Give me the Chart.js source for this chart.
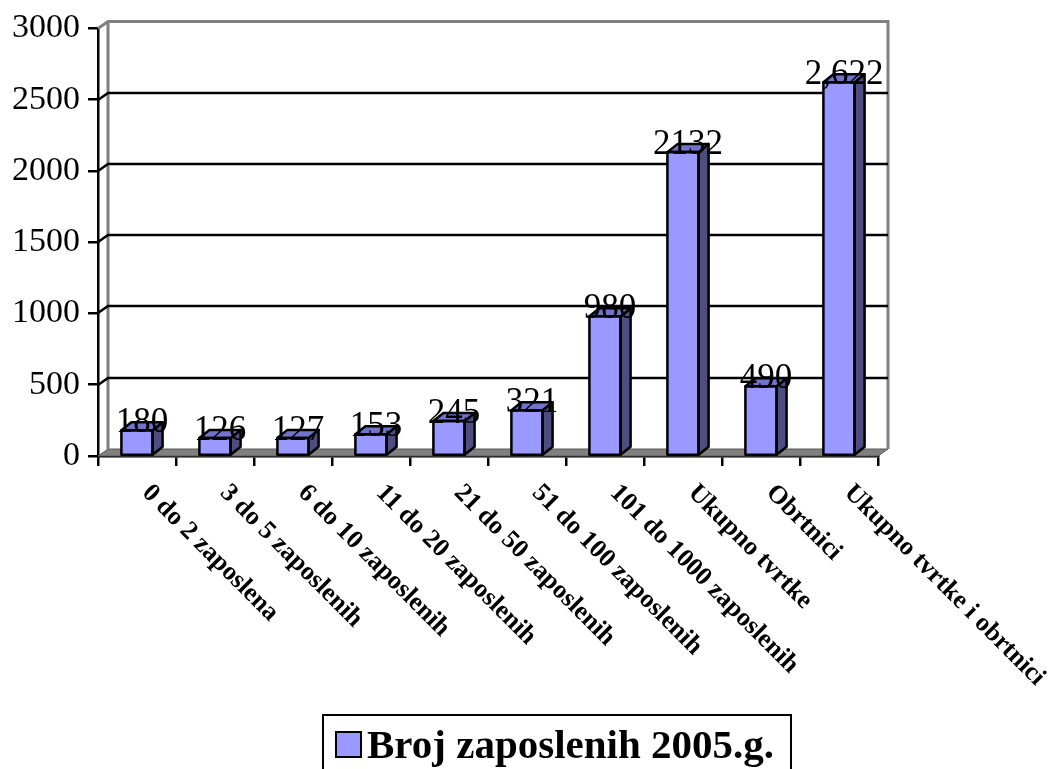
<!DOCTYPE html>
<html><head><meta charset="utf-8">
<script src="https://cdn.jsdelivr.net/npm/chart.js@4.4.1/dist/chart.umd.min.js"></script>
<style>html,body{margin:0;padding:0;background:#fff;overflow:hidden}</style>
</head><body>
<canvas id="c" width="1048" height="769"></canvas>
<script>
const categories = ['0 do 2 zaposlena','3 do 5 zaposlenih','6 do 10 zaposlenih','11 do 20 zaposlenih','21 do 50 zaposlenih','51 do 100 zaposlenih','101 do 1000 zaposlenih','Ukupno tvrtke','Obrtnici','Ukupno tvrtke i obrtnici'];
const values = [180,126,127,153,245,321,980,2132,490,2622];
const valueLabels = ['180','126','127','153','245','321','980','2132','490','2,622'];
const seriesName = 'Broj zaposlenih 2005.g.';
const yTicks = [0,500,1000,1500,2000,2500,3000];

const FRONT = '#9999FF', SIDE = '#4D4D80', TOP = '#7373CC';
const SERIF = "'Liberation Serif','Times New Roman',serif";

const threeD = {
  id: 'threeD',
  beforeDatasetsDraw(chart) {
    const {ctx, chartArea: a, scales: {y}} = chart;
    const L = a.left, R = a.right, T = a.top, B = a.bottom, dx = 10, dy = -7;
    ctx.save();
    // floor
    ctx.fillStyle = '#808080';
    ctx.beginPath();
    ctx.moveTo(L, B); ctx.lineTo(R, B); ctx.lineTo(R + dx, B + dy); ctx.lineTo(L + dx, B + dy); ctx.closePath();
    ctx.fill();
    ctx.strokeStyle = '#5a5a5a'; ctx.lineWidth = 1; ctx.stroke();
    // wall outline
    ctx.strokeStyle = '#808080'; ctx.lineWidth = 3;
    ctx.beginPath();
    ctx.moveTo(L, T); ctx.lineTo(L + dx, T + dy); ctx.lineTo(R + dx, T + dy); ctx.lineTo(R + dx, B + dy);
    ctx.moveTo(L + dx, T + dy); ctx.lineTo(L + dx, B + dy);
    ctx.stroke();
    // gridlines on back wall
    ctx.strokeStyle = '#000'; ctx.lineWidth = 2.5;
    yTicks.forEach(v => {
      if (v <= y.min || v >= y.max) return;
      const yy = Math.round(y.getPixelForValue(v));
      ctx.beginPath();
      ctx.moveTo(L, yy); ctx.lineTo(L + dx, yy + dy); ctx.lineTo(R + dx, yy + dy);
      ctx.stroke();
    });
    ctx.restore();
  },
  afterDatasetsDraw(chart) {
    const {ctx} = chart;
    const meta = chart.getDatasetMeta(0);
    const dx = 10, dy = -8;
    ctx.save();
    ctx.lineWidth = 2.5; ctx.strokeStyle = '#000'; ctx.lineJoin = 'round';
    meta.data.forEach(bar => {
      const {x, y, base, width} = bar.getProps(['x', 'y', 'base', 'width'], true);
      const l = x - width / 2, r = x + width / 2;
      // side
      ctx.fillStyle = SIDE;
      ctx.beginPath();
      ctx.moveTo(r, y); ctx.lineTo(r + dx, y + dy); ctx.lineTo(r + dx, base + dy); ctx.lineTo(r, base); ctx.closePath();
      ctx.fill(); ctx.stroke();
      // top
      ctx.fillStyle = TOP;
      ctx.beginPath();
      ctx.moveTo(l, y); ctx.lineTo(l + dx, y + dy); ctx.lineTo(r + dx, y + dy); ctx.lineTo(r, y); ctx.closePath();
      ctx.fill(); ctx.stroke();
      // front outline
      ctx.strokeRect(l, y, width, base - y);
    });
    // value labels
    ctx.fillStyle = '#000';
    ctx.font = `35px ${SERIF}`;
    ctx.textAlign = 'center'; ctx.textBaseline = 'alphabetic';
    meta.data.forEach((bar, i) => {
      ctx.fillText(valueLabels[i], bar.x + 5, bar.y + 2);
    });
    ctx.restore();
  },
  afterDraw(chart) {
    const {ctx, chartArea: a, scales: {x}} = chart;
    ctx.save();
    // rotated category labels
    ctx.fillStyle = '#000';
    ctx.font = `bold 26px ${SERIF}`;
    ctx.textAlign = 'left'; ctx.textBaseline = 'middle';
    categories.forEach((c, i) => {
      const px = x.getPixelForValue(i);
      ctx.save();
      ctx.translate(px + 9, a.bottom + 33);
      ctx.rotate(Math.PI / 4);
      ctx.fillText(c, 0, 0);
      ctx.restore();
    });
    // legend
    ctx.font = `bold 41px ${SERIF}`;
    const tw = ctx.measureText(seriesName).width;
    const boxW = 13 + 25 + 8 + tw + 15;
    const bx = Math.round(557 - boxW / 2), by = 715;
    ctx.strokeStyle = '#000'; ctx.lineWidth = 2;
    ctx.strokeRect(bx, by, boxW, 80);
    ctx.fillStyle = FRONT;
    ctx.fillRect(bx + 13, by + 17, 25, 25);
    ctx.strokeRect(bx + 13, by + 17, 25, 25);
    ctx.fillStyle = '#000';
    ctx.textAlign = 'left'; ctx.textBaseline = 'alphabetic';
    ctx.fillText(seriesName, bx + 44, by + 43);
    ctx.restore();
  }
};

new Chart(document.getElementById('c'), {
  type: 'bar',
  data: {
    labels: categories,
    datasets: [{
      label: seriesName,
      data: values,
      backgroundColor: FRONT,
      borderColor: '#000',
      borderWidth: 0,
      categoryPercentage: 1,
      barPercentage: 0.4
    }]
  },
  options: {
    responsive: false,
    animation: false,
    layout: {padding: {left: 0, top: 27, right: 170, bottom: 0}},
    plugins: {legend: {display: false}, tooltip: {enabled: false}},
    scales: {
      x: {
        grid: {display: true, drawOnChartArea: false, drawTicks: true, tickLength: 10, color: '#000', lineWidth: 2.5, offset: true},
        border: {display: true, color: '#000', width: 2.5},
        ticks: {display: false},
        afterFit(s) { s.height = 313; }
      },
      y: {
        min: 0, max: 3000,
        afterBuildTicks(s) { s.ticks = yTicks.map(v => ({value: v})); },
        grid: {drawOnChartArea: false, drawTicks: true, tickLength: 10, color: '#000', lineWidth: 2.5},
        border: {display: true, color: '#000', width: 2.5},
        ticks: {font: {family: SERIF, size: 34}, color: '#000', padding: 8, callback: v => String(v)},
        afterFit(s) { s.width = 98; }
      }
    }
  },
  plugins: [threeD]
});
</script>
</body></html>
